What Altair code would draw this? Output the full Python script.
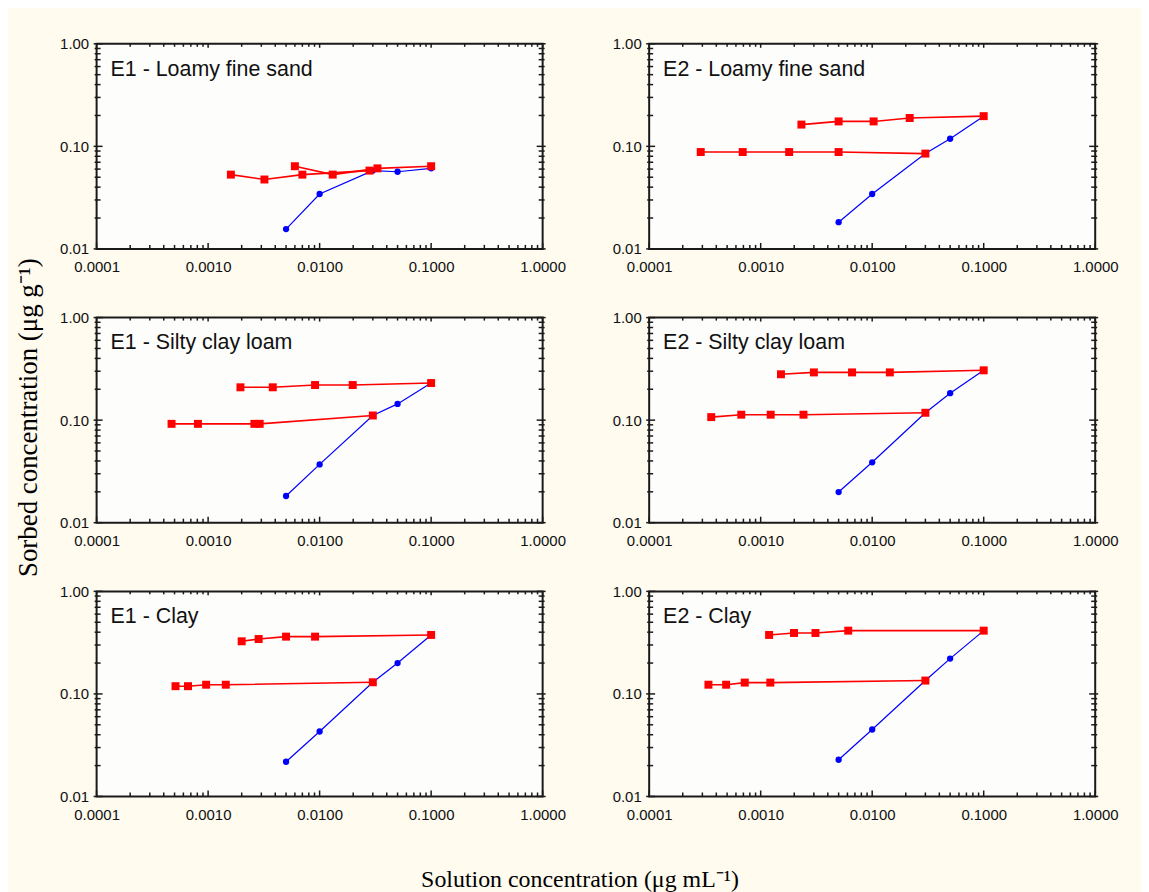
import altair as alt
import pandas as pd

# ---------------- data ----------------
panel_names = [
    "E1 - Loamy fine sand", "E2 - Loamy fine sand",
    "E1 - Silty clay loam", "E2 - Silty clay loam",
    "E1 - Clay", "E2 - Clay",
]

# adsorption isotherm (blue): common solution concentrations
ads_x = [0.005, 0.01, 0.03, 0.05, 0.1]
ads_y = [
    [0.0156, 0.0343, 0.058, 0.0565, 0.061],
    [0.0182, 0.0343, 0.085, 0.1186, 0.197],
    [0.0182, 0.037, 0.111, 0.144, 0.23],
    [0.0199, 0.0388, 0.118, 0.183, 0.306],
    [0.0218, 0.043, 0.13, 0.20, 0.376],
    [0.0228, 0.045, 0.135, 0.221, 0.414],
]

# desorption from the highest concentration (red, upper)
des_hi_x = [
    [0.1, 0.033, 0.0131, 0.006],
    [0.1, 0.0217, 0.0103, 0.005, 0.00232],
    [0.1, 0.0198, 0.0091, 0.0038, 0.00195],
    [0.1, 0.0144, 0.0066, 0.003, 0.00152],
    [0.1, 0.0091, 0.005, 0.00284, 0.002],
    [0.1, 0.0061, 0.0031, 0.00199, 0.00119],
]
des_hi_y = [
    [0.064, 0.061, 0.053, 0.064],
    [0.197, 0.189, 0.175, 0.175, 0.163],
    [0.23, 0.22, 0.22, 0.209, 0.209],
    [0.306, 0.292, 0.292, 0.292, 0.28],
    [0.376, 0.362, 0.362, 0.343, 0.326],
    [0.414, 0.414, 0.393, 0.393, 0.376],
]

# desorption from the intermediate concentration (red, lower)
des_lo_x = [
    [0.028, 0.007, 0.0032, 0.0016],
    [0.03, 0.005, 0.0018, 0.00069, 0.00029],
    [0.03, 0.0029, 0.0026, 0.00081, 0.00047],
    [0.03, 0.00242, 0.00123, 0.00067, 0.00036],
    [0.03, 0.00144, 0.00096, 0.00066, 0.00051],
    [0.03, 0.00122, 0.00072, 0.00049, 0.00034],
]
des_lo_y = [
    [0.058, 0.053, 0.0475, 0.053],
    [0.085, 0.088, 0.088, 0.088, 0.088],
    [0.111, 0.092, 0.092, 0.092, 0.092],
    [0.118, 0.113, 0.113, 0.113, 0.107],
    [0.13, 0.123, 0.123, 0.119, 0.119],
    [0.135, 0.129, 0.129, 0.123, 0.123],
]

# tick values / labels
x_major = [0.0001, 0.001, 0.01, 0.1, 1.0]
y_major = [0.01, 0.1, 1.0]
minor_mult = [2, 3, 4, 5, 6, 7, 8, 9]
x_minor = [m * d for d in [0.0001, 0.001, 0.01, 0.1] for m in minor_mult]
y_minor = [m * d for d in [0.01, 0.1] for m in minor_mult]

y_title = "Sorbed concentration (μg g⁻¹)"
x_title = "Solution concentration (μg mL⁻¹)"

# ---------------- build ----------------
rows = []
for i in range(6):
    for xv, yv in zip(ads_x, ads_y[i]):
        rows.append({"panel": i, "series": "ads", "x": xv, "y": yv})
    for xv, yv in zip(des_hi_x[i], des_hi_y[i]):
        rows.append({"panel": i, "series": "des_hi", "x": xv, "y": yv})
    for xv, yv in zip(des_lo_x[i], des_lo_y[i]):
        rows.append({"panel": i, "series": "des_lo", "x": xv, "y": yv})
data = pd.DataFrame(rows)

W, H = 448, 206
SANS = "Liberation Sans"
SERIF = "Liberation Serif"
RED = "#ff0000"
BLUE = "#0000ff"
FRAME = "#1a1a1a"

xs = alt.Scale(type="log", domain=[0.0001, 1], nice=False)
ys = alt.Scale(type="log", domain=[0.01, 1], nice=False)

xmaj_df = pd.DataFrame({"x": x_major})
xmin_df = pd.DataFrame({"x": x_minor})
ymaj_df = pd.DataFrame({"y": y_major})
ymin_df = pd.DataFrame({"y": y_minor})


def x_axis(with_title):
    kw = dict(values=x_major, format=".4f", ticks=False, tickSize=0, domain=False,
              grid=False, labelFlush=False, labelOverlap=False, labelPadding=11,
              labelFont=SANS, labelFontSize=15, labelColor="#111111")
    if with_title:
        kw.update(titleFont=SERIF, titleFontSize=24, titleFontWeight="normal",
                  titleColor="#000000", titleX=485, titleY=90, titleAlign="center",
                  titleBaseline="alphabetic", titleAngle=0)
    return alt.Axis(**kw)


def y_axis(with_title):
    kw = dict(values=y_major, format=".2f", ticks=False, tickSize=0, domain=False,
              grid=False, labelFlush=False, labelOverlap=False, labelPadding=8,
              labelFont=SANS, labelFontSize=15, labelColor="#111111")
    if with_title:
        kw.update(titleFont=SERIF, titleFontSize=27, titleFontWeight="normal",
                  titleColor="#000000", titleX=-60, titleY=100, titleAlign="center",
                  titleBaseline="alphabetic", titleAngle=270)
    return alt.Axis(**kw)


def panel(i):
    show_y = (i == 2)
    show_x = (i == 4)
    base = alt.Chart(data).transform_filter(alt.datum.panel == i)
    X = alt.X("x:Q", scale=xs, axis=x_axis(show_x), title=x_title if show_x else None)
    Y = alt.Y("y:Q", scale=ys, axis=y_axis(show_y), title=y_title if show_y else None)

    blue_line = base.transform_filter(alt.datum.series == "ads").mark_line(
        color=BLUE, strokeWidth=1.2).encode(x=X, y=Y)
    blue_pts = base.transform_filter(alt.datum.series == "ads").mark_circle(
        color=BLUE, size=40, opacity=1).encode(x=X, y=Y)
    red_line = base.transform_filter(alt.datum.series != "ads").mark_line(
        color=RED, strokeWidth=1.6).encode(x=X, y=Y, detail="series:N")
    red_pts = base.transform_filter(alt.datum.series != "ads").mark_square(
        color=RED, size=64, opacity=1).encode(x=X, y=Y)

    tick_layers = [
        alt.Chart(xmaj_df).mark_rule(color=FRAME, strokeWidth=1.5).encode(
            x=X, y=alt.value(H), y2=alt.value(H - 6)),
        alt.Chart(xmin_df).mark_rule(color=FRAME, strokeWidth=1.5).encode(
            x=X, y=alt.value(H), y2=alt.value(H - 4)),
        alt.Chart(xmaj_df).mark_rule(color=FRAME, strokeWidth=1.5).encode(
            x=X, y=alt.value(0), y2=alt.value(4)),
        alt.Chart(xmin_df).mark_rule(color=FRAME, strokeWidth=1.5).encode(
            x=X, y=alt.value(0), y2=alt.value(3)),
        alt.Chart(ymaj_df).mark_rule(color=FRAME, strokeWidth=1.5).encode(
            y=Y, x=alt.value(-3), x2=alt.value(6)),
        alt.Chart(ymin_df).mark_rule(color=FRAME, strokeWidth=1.5).encode(
            y=Y, x=alt.value(-2), x2=alt.value(4)),
        alt.Chart(ymaj_df).mark_rule(color=FRAME, strokeWidth=1.5).encode(
            y=Y, x=alt.value(W + 3), x2=alt.value(W - 6)),
        alt.Chart(ymin_df).mark_rule(color=FRAME, strokeWidth=1.5).encode(
            y=Y, x=alt.value(W + 2), x2=alt.value(W - 4)),
    ]

    label = alt.Chart(pd.DataFrame({"label": [panel_names[i]]})).mark_text(
        align="left", baseline="alphabetic", font=SANS, fontSize=21.5, color="#111111"
    ).encode(x=alt.value(14), y=alt.value(32), text="label:N")

    return alt.layer(
        blue_line, red_line, blue_pts, red_pts, *tick_layers, label
    ).properties(
        width=W, height=H,
        view=alt.ViewBackground(fill="#fdfdfc", stroke=FRAME, strokeWidth=2),
    )


chart = alt.concat(
    *[panel(i) for i in range(6)],
    columns=2,
    spacing={"row": 69, "column": 107},
    bounds="flush",
).properties(
    padding={"left": 5, "top": 26, "right": 22, "bottom": 0},
    background="#fffbef",
)

chart.save("out.html", embed_options={"renderer": "svg", "actions": False})
